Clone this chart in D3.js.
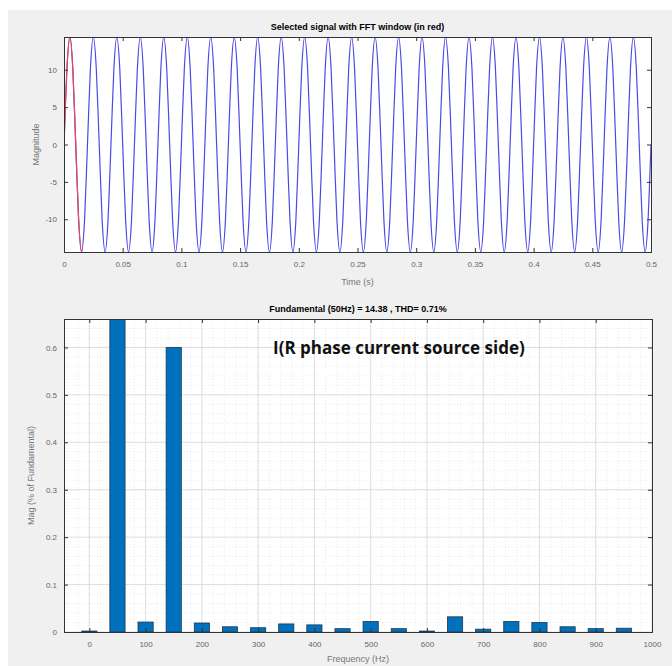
<!DOCTYPE html>
<html>
<head>
<meta charset="utf-8">
<script src="https://cdn.jsdelivr.net/npm/d3@7"></script>
<style>
  body { margin: 0; background: #fff; }
  svg text { font-family: "Liberation Sans", Arial, sans-serif; }
  .tick text { fill: #666; font-size: 8px; }
  .tick line { stroke: #333; }
  .domain { stroke: #333; }
</style>
</head>
<body>
<div id="viz"></div>
<script>
var width = 672, height = 666;

var signalFreq = 50;
var signalEnd = 0.5;
var cycleSamples = [0, 10.17, 14.38, 10.17, 0, -10.17, -14.38, -10.17];
var windowEnd = 0.0155;

var timeTicks = [0, 0.05, 0.1, 0.15, 0.2, 0.25, 0.3, 0.35, 0.4, 0.45, 0.5];
var magTicks = [-10, -5, 0, 5, 10];

// spectrum
var freqs = [0, 50, 100, 150, 200, 250, 300, 350, 400, 450, 500, 550, 600, 650, 700, 750, 800, 850, 900, 950];
var mags = [0.002, 1.0, 0.021, 0.6, 0.019, 0.011, 0.009, 0.017, 0.015, 0.007, 0.022, 0.007, 0.002, 0.032, 0.006, 0.022, 0.02, 0.011, 0.007, 0.008];
var freqTicks = [0, 100, 200, 300, 400, 500, 600, 700, 800, 900, 1000];
var pctTicks = [0, 0.1, 0.2, 0.3, 0.4, 0.5, 0.6];

var svg = d3.select("#viz").append("svg")
    .attr("width", width)
    .attr("height", height);

// figure background
svg.append("rect")
    .attr("x", 8).attr("y", 10)
    .attr("width", width - 8).attr("height", height - 10)
    .attr("fill", "#f0f0f0");

// ---------- top plot ----------
var top1 = {left: 64, right: 651, top: 37, bottom: 252};

var x1 = d3.scaleLinear().domain([0, 0.5]).range([top1.left, top1.right]);
var y1 = d3.scaleLinear().domain([-14.38, 14.38]).range([top1.bottom, top1.top]);

svg.append("rect")
    .attr("x", top1.left).attr("y", top1.top)
    .attr("width", top1.right - top1.left).attr("height", top1.bottom - top1.top)
    .attr("fill", "#fff");

var sigPts = [];
var nCycles = Math.round(signalEnd * signalFreq);
for (var c = 0; c < nCycles; c++) {
  cycleSamples.forEach(function(v, i) {
    sigPts.push([(c + i / cycleSamples.length) / signalFreq, v]);
  });
}
sigPts.push([signalEnd, cycleSamples[0]]);

var line1 = d3.line()
    .x(function(d) { return x1(d[0]); })
    .y(function(d) { return y1(d[1]); })
    .curve(d3.curveCardinal.tension(0.2));

svg.append("clipPath").attr("id", "clip1")
    .append("rect")
    .attr("x", top1.left).attr("y", top1.top)
    .attr("width", top1.right - top1.left).attr("height", top1.bottom - top1.top);

svg.append("clipPath").attr("id", "clipRed")
    .append("rect")
    .attr("x", top1.left).attr("y", top1.top)
    .attr("width", x1(windowEnd) - top1.left).attr("height", top1.bottom - top1.top);

svg.append("path")
    .datum(sigPts)
    .attr("clip-path", "url(#clip1)")
    .attr("fill", "none")
    .attr("stroke", "#4a4ae6")
    .attr("stroke-width", 1.2)
    .attr("d", line1);

svg.append("path")
    .datum(sigPts.filter(function(d) { return d[0] <= windowEnd + 0.003; }))
    .attr("clip-path", "url(#clipRed)")
    .attr("fill", "none")
    .attr("stroke", "#ee4455")
    .attr("stroke-width", 1.2)
    .attr("d", line1);

function boxAxes(g, xs, ys, box, xt, yt, xfmt, yfmt) {
  g.append("g")
    .attr("transform", "translate(0," + box.bottom + ")")
    .call(d3.axisBottom(xs).tickValues(xt).tickSize(-4).tickPadding(9).tickFormat(xfmt));
  g.append("g")
    .attr("transform", "translate(0," + box.top + ")")
    .call(d3.axisTop(xs).tickValues(xt).tickSize(-4).tickFormat(""));
  g.append("g")
    .attr("transform", "translate(" + box.left + ",0)")
    .call(d3.axisLeft(ys).tickValues(yt).tickSize(-4).tickPadding(7).tickFormat(yfmt));
  g.append("g")
    .attr("transform", "translate(" + box.right + ",0)")
    .call(d3.axisRight(ys).tickValues(yt).tickSize(-4).tickFormat(""));
  g.selectAll(".domain").attr("stroke", "#333");
}

boxAxes(svg.append("g"), x1, y1, top1, timeTicks, magTicks,
  function(d) { return d3.format("")(+d.toFixed(2)); },
  function(d) { return d; });

svg.append("text")
    .attr("x", (top1.left + top1.right) / 2).attr("y", 30)
    .attr("text-anchor", "middle")
    .style("font-size", "9px").style("font-weight", "bold")
    .text("Selected signal with FFT window (in red)");

svg.append("text")
    .attr("x", (top1.left + top1.right) / 2).attr("y", 285)
    .attr("text-anchor", "middle")
    .style("font-size", "9px").attr("fill", "#777")
    .text("Time (s)");

svg.append("text")
    .attr("transform", "translate(39," + (top1.top + top1.bottom) / 2 + ") rotate(-90)")
    .attr("text-anchor", "middle")
    .style("font-size", "9px").attr("fill", "#777")
    .text("Magnitude");

// ---------- bottom plot ----------
var bot = {left: 64, right: 652, top: 319, bottom: 632};

var x2 = d3.scaleLinear().domain([-45, 1000]).range([bot.left, bot.right]);
var y2 = d3.scaleLinear().domain([0, 0.66]).range([bot.bottom, bot.top]);

svg.append("rect")
    .attr("x", bot.left).attr("y", bot.top)
    .attr("width", bot.right - bot.left).attr("height", bot.bottom - bot.top)
    .attr("fill", "#fff");

// minor grid
var grid = svg.append("g");
grid.selectAll(".vminor")
    .data(d3.range(-40, 1000, 20))
    .enter().append("line")
    .attr("x1", function(d) { return x2(d); }).attr("x2", function(d) { return x2(d); })
    .attr("y1", bot.top).attr("y2", bot.bottom)
    .attr("stroke", "#ddd").attr("stroke-width", 0.6).attr("stroke-dasharray", "1,2");
grid.selectAll(".hminor")
    .data(d3.range(0.02, 0.66, 0.02))
    .enter().append("line")
    .attr("x1", bot.left).attr("x2", bot.right)
    .attr("y1", function(d) { return y2(d); }).attr("y2", function(d) { return y2(d); })
    .attr("stroke", "#ddd").attr("stroke-width", 0.6).attr("stroke-dasharray", "1,2");
// major grid
grid.selectAll(".vmajor")
    .data(freqTicks)
    .enter().append("line")
    .attr("x1", function(d) { return x2(d); }).attr("x2", function(d) { return x2(d); })
    .attr("y1", bot.top).attr("y2", bot.bottom)
    .attr("stroke", "#d4d4d4").attr("stroke-width", 0.7);
grid.selectAll(".hmajor")
    .data(pctTicks)
    .enter().append("line")
    .attr("x1", bot.left).attr("x2", bot.right)
    .attr("y1", function(d) { return y2(d); }).attr("y2", function(d) { return y2(d); })
    .attr("stroke", "#d4d4d4").attr("stroke-width", 0.7);

svg.append("clipPath").attr("id", "clip2")
    .append("rect")
    .attr("x", bot.left).attr("y", bot.top)
    .attr("width", bot.right - bot.left).attr("height", bot.bottom - bot.top);

var barW = 27;
svg.append("g")
    .attr("clip-path", "url(#clip2)")
    .selectAll("rect")
    .data(freqs)
    .enter().append("rect")
    .attr("x", function(d) { return x2(d - barW / 2); })
    .attr("width", x2(barW) - x2(0))
    .attr("y", function(d, i) { return y2(mags[i]); })
    .attr("height", function(d, i) { return y2(0) - y2(mags[i]); })
    .attr("fill", "#0072bd")
    .attr("stroke", "#1c3550")
    .attr("stroke-width", 0.8);

boxAxes(svg.append("g"), x2, y2, bot, freqTicks, pctTicks,
  function(d) { return d; },
  function(d) { return d3.format("")(+d.toFixed(1)); });

svg.append("text")
    .attr("x", (bot.left + bot.right) / 2).attr("y", 312)
    .attr("text-anchor", "middle")
    .style("font-size", "9px").style("font-weight", "bold")
    .text("Fundamental (50Hz) = 14.38 , THD= 0.71%");

svg.append("text")
    .attr("x", 273).attr("y", 354)
    .style("font-family", "'Open Sans', sans-serif")
    .style("font-size", "17px").style("font-weight", "bold")
    .attr("fill", "#111")
    .text("I(R phase current source side)");

svg.append("text")
    .attr("x", (bot.left + bot.right) / 2).attr("y", 662)
    .attr("text-anchor", "middle")
    .style("font-size", "9px").attr("fill", "#777")
    .text("Frequency (Hz)");

svg.append("text")
    .attr("transform", "translate(34," + (bot.top + bot.bottom) / 2 + ") rotate(-90)")
    .attr("text-anchor", "middle")
    .style("font-size", "9px").attr("fill", "#777")
    .text("Mag (% of Fundamental)");
</script>
</body>
</html>
